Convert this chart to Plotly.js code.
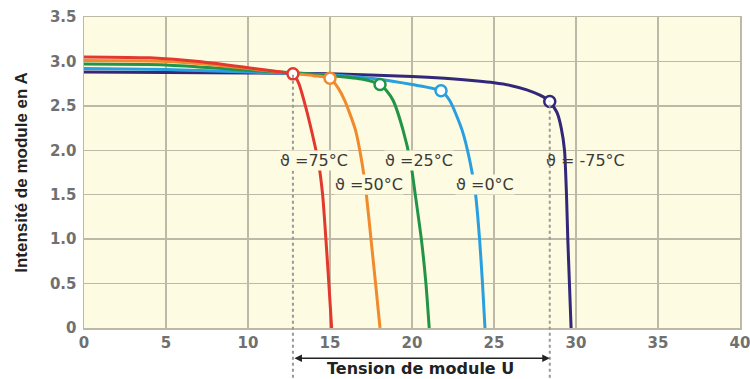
<!DOCTYPE html>
<html><head><meta charset="utf-8">
<script src="https://cdn.plot.ly/plotly-3.0.1.min.js"></script>
<style>body{margin:0;background:#fff}#c{width:750px;height:379px}</style>
</head><body><div id="c"></div>
<script>
// Temperatures and curve colours
const temps = ["75°C", "50°C", "25°C", "0°C", "-75°C"];
const colors = ["#e2382e", "#f08a2c", "#229447", "#2a9fdf", "#33277a"];

// I-U curves (U in V, I in A)
const u75 = [0, 4, 7, 10, 12, 12.74, 13.1, 13.5, 13.9, 14.3, 14.55, 14.75, 14.93, 15.1];
const i75 = [3.05, 3.04, 3.0, 2.93, 2.88, 2.86, 2.75, 2.5, 2.2, 1.86, 1.5, 1.0, 0.5, 0];
const u50 = [0, 5, 8, 11, 13, 14, 15.0, 15.5, 15.9, 16.55, 16.95, 17.2, 17.5, 17.78, 18.05];
const i50 = [3.01, 3.0, 2.96, 2.9, 2.86, 2.84, 2.81, 2.7, 2.56, 2.23, 1.86, 1.53, 1.0, 0.5, 0];
const u25 = [0, 5, 10, 13, 15, 17, 18.05, 18.45, 18.85, 19.45, 19.92, 20.2, 20.57, 20.85, 21.05];
const i25 = [2.97, 2.96, 2.9, 2.87, 2.84, 2.8, 2.74, 2.67, 2.56, 2.23, 1.86, 1.5, 1.0, 0.5, 0];
const u0 = [0, 5, 10, 15, 18, 20, 21.77, 22.3, 23.05, 23.55, 23.88, 24.12, 24.3, 24.45];
const i0 = [2.92, 2.91, 2.88, 2.85, 2.8, 2.74, 2.67, 2.56, 2.23, 1.86, 1.5, 1.0, 0.5, 0];
const um75 = [0, 10, 15, 20, 22, 24, 25, 26, 27.0, 27.8, 28.4, 28.85, 29.1, 29.3, 29.42, 29.5, 29.6, 29.7];
const im75 = [2.88, 2.87, 2.86, 2.83, 2.81, 2.78, 2.76, 2.73, 2.68, 2.62, 2.55, 2.42, 2.25, 2.0, 1.5, 1.0, 0.5, 0];

// Maximum power points
const mppU = [12.74, 15.0, 18.05, 21.77, 28.4];
const mppI = [2.86, 2.81, 2.74, 2.67, 2.55];

// Label positions
const labelU = [14.05, 17.35, 20.4, 24.45, 30.6];
const labelI = [1.89, 1.62, 1.89, 1.62, 1.89];

// Axis ticks
const xTicks = [0, 5, 10, 15, 20, 25, 30, 35, 40];
const yTicks = [0, 0.5, 1.0, 1.5, 2.0, 2.5, 3.0, 3.5];
const yTickText = ["0", "0.5", "1.0", "1.5", "2.0", "2.5", "3.0", "3.5"];

const curvesU = [u75, u50, u25, u0, um75];
const curvesI = [i75, i50, i25, i0, im75];
const yMax = 3.5;
const plotBg = "#fdfbe1";

const traces = [];
for (let k = curvesU.length - 1; k >= 0; k--) {
  traces.push({
    x: curvesU[k], y: curvesI[k], type: "scatter", mode: "lines",
    line: {color: colors[k], width: 3, shape: "spline", smoothing: 0.6},
    hoverinfo: "skip", showlegend: false
  });
}
traces.push({
  x: mppU, y: mppI, type: "scatter", mode: "markers",
  marker: {size: 11, color: "#ffffff", line: {color: colors, width: 2.5}},
  showlegend: false, hoverinfo: "skip"
});

const font = "Liberation Sans, Arial, sans-serif";
const font2 = "DejaVu Sans, Liberation Sans, sans-serif";
const annotations = temps.map((t, k) => ({
  x: labelU[k], y: labelI[k], xref: "x", yref: "y",
  text: "ϑ =" + (k === 4 ? " " : "") + t, showarrow: false,
  font: {family: font2, size: 16, color: "#3a3a3a"},
  bgcolor: k === 4 ? "rgba(0,0,0,0)" : plotBg, borderpad: 0
}));
// double-headed arrow between the two dashed lines
annotations.push({
  x: mppU[4], y: -0.097, xref: "x", yref: "paper",
  ax: mppU[0], ay: 0, axref: "x", ayref: "pixel",
  showarrow: true, arrowhead: 2, arrowside: "end+start", arrowsize: 1,
  arrowwidth: 1.5, arrowcolor: "#222", text: ""
});
annotations.push({
  x: 20.5, y: -0.1305, xref: "x", yref: "paper", yanchor: "middle",
  text: "<b>Tension de module U</b>", showarrow: false,
  font: {family: font2, size: 16, color: "#222"}, borderpad: 0
});

const shapes = [mppU[0], mppU[4]].map((u, j) => ({
  type: "line", xref: "x", yref: "paper",
  x0: u, x1: u, y0: -0.16, y1: (j === 0 ? mppI[0] : mppI[4]) / yMax,
  line: {color: "#999", width: 2, dash: "dot"}, layer: "above"
}));

const layout = {
  width: 750, height: 379,
  margin: {l: 84, r: 10, t: 17, b: 51},
  paper_bgcolor: "#ffffff", plot_bgcolor: plotBg,
  font: {family: font},
  xaxis: {
    range: [0, 40], tickvals: xTicks, ticks: "",
    tickfont: {family: font2, size: 15, color: "#707070", weight: "bold"},
    ticklabeloverflow: "allow",
    showgrid: true, gridcolor: "#bdb9a6", gridwidth: 1.5,
    zeroline: false, showline: true, linecolor: "#bdb9a6", linewidth: 1.5, mirror: true,
    fixedrange: true
  },
  yaxis: {
    range: [0, yMax], tickvals: yTicks, ticktext: yTickText, ticks: "",
    tickfont: {family: font2, size: 15, color: "#707070", weight: "bold"},
    ticklabelstandoff: 3,
    showgrid: true, gridcolor: "#bdb9a6", gridwidth: 1.5,
    zeroline: false, showline: true, linecolor: "#bdb9a6", linewidth: 1.5, mirror: true,
    title: {text: "Intensité de module en A", font: {family: font, size: 17, color: "#222", weight: "bold"}, standoff: 18},
    fixedrange: true
  },
  annotations: annotations,
  shapes: shapes,
  showlegend: false
};

Plotly.newPlot("c", traces, layout, {displayModeBar: false, staticPlot: true});
</script>
</body></html>
